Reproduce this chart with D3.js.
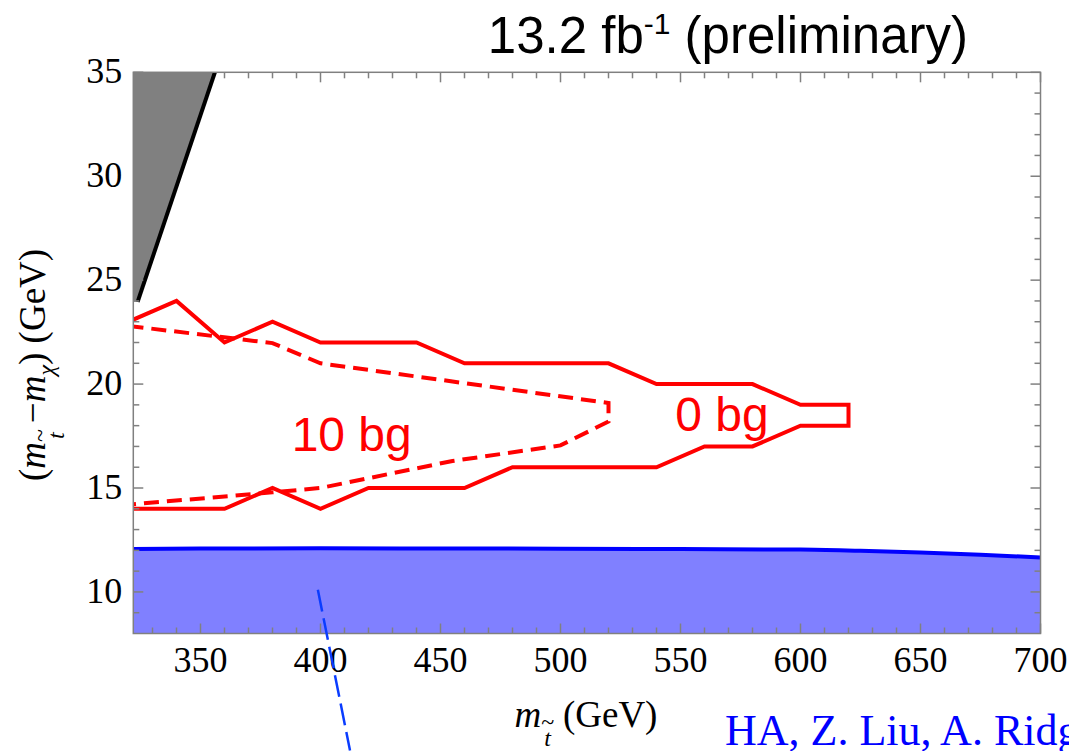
<!DOCTYPE html>
<html>
<head>
<meta charset="utf-8">
<script src="https://cdn.jsdelivr.net/npm/d3@7"></script>
<style>
  body { margin: 0; background: #fff; }
  svg { display: block; }
</style>
</head>
<body>
<div id="chart"></div>
<script>
// data
var xTicks = [350, 400, 450, 500, 550, 600, 650, 700];
var yTicks = [10, 15, 20, 25, 30, 35];

// 0 bg contour (solid)
var zeroBgX = [320, 340, 360, 380, 400, 440, 460, 520, 540, 580, 600, 620, 620, 600, 580, 560, 540, 480, 460, 420, 400, 380, 360, 320];
var zeroBgY = [23, 24, 22, 23, 22, 22, 21, 21, 20, 20, 19, 19, 18, 18, 17, 17, 16, 16, 15, 15, 14, 15, 14, 14];

// 10 bg contour (dashed)
var tenBgX = [320, 380, 400, 520, 520, 500, 455, 400, 380, 320];
var tenBgY = [22.8, 21.97, 21.0, 19.09, 18.2, 17.05, 16.3, 15.0, 14.79, 14.2];

// excluded band at small mass (grey)
var greyX = [320, 356, 323.8, 320];
var greyY = [35, 35, 23.96, 23.96];
var blackLineX = [323.8, 356];
var blackLineY = [23.96, 35];

// blue excluded region
var blueX = [320, 350, 400, 450, 500, 550, 600, 625, 650, 675, 700];
var blueY = [12.07, 12.09, 12.1, 12.09, 12.08, 12.06, 12.04, 11.98, 11.9, 11.79, 11.66];

// thin blue dashed line
var blueDashX = [398.9, 412.3];
var blueDashY = [10.1, 2.37];

//Define Margin
var margin = {left: 133.3, right: 28.5, top: 72.3, bottom: 117.5},
    width = 1069 - margin.left - margin.right,
    height = 751 - margin.top - margin.bottom;

var serif = "'Liberation Serif', 'Times New Roman', serif";
var sans = "'Liberation Sans', Arial, sans-serif";
var frameColor = "#808080";

var svg = d3.select("div#chart")
    .append("svg")
    .attr("width", 1069)
    .attr("height", 751);

var g = svg.append("g")
    .attr("transform", "translate(" + margin.left + "," + margin.top + ")");

//Define Scales
var xScale = d3.scaleLinear().domain([322, 700]).range([0, width]);
var yScale = d3.scaleLinear().domain([8, 35]).range([height, 0]);

g.append("defs").append("clipPath")
    .attr("id", "clip")
    .append("rect")
    .attr("width", width)
    .attr("height", height);

var plot = g.append("g").attr("clip-path", "url(#clip)");

function pts(xs, ys) { return xs.map(function(d, i) { return [d, ys[i]]; }); }

var line = d3.line()
    .x(function(d) { return xScale(d[0]); })
    .y(function(d) { return yScale(d[1]); });

// blue region
var blueArea = d3.area()
    .x(function(d) { return xScale(d[0]); })
    .y0(yScale(8))
    .y1(function(d) { return yScale(d[1]); })
    .curve(d3.curveMonotoneX);

plot.append("path")
    .datum(pts(blueX, blueY))
    .attr("d", blueArea)
    .attr("fill", "#8080ff");

plot.append("path")
    .datum(pts(blueX, blueY))
    .attr("d", line.curve(d3.curveMonotoneX))
    .attr("fill", "none")
    .attr("stroke", "#0000ff")
    .attr("stroke-width", 4);
line.curve(d3.curveLinear);

// grey region + black edge
plot.append("path")
    .datum(pts(greyX, greyY))
    .attr("d", function(d) { return line(d) + "Z"; })
    .attr("fill", "#808080");

plot.append("path")
    .datum(pts(blackLineX, blackLineY))
    .attr("d", line)
    .attr("fill", "none")
    .attr("stroke", "#000")
    .attr("stroke-width", 4);

// contours
plot.append("path")
    .datum(pts(zeroBgX, zeroBgY))
    .attr("d", line)
    .attr("fill", "none")
    .attr("stroke", "#ff0000")
    .attr("stroke-width", 4)
    .attr("stroke-linejoin", "miter");

plot.append("path")
    .datum(pts(tenBgX, tenBgY))
    .attr("d", line)
    .attr("fill", "none")
    .attr("stroke", "#ff0000")
    .attr("stroke-width", 4)
    .attr("stroke-dasharray", "15,8");

// contour labels
g.append("text")
    .attr("x", xScale(413))
    .attr("y", yScale(16.77))
    .attr("text-anchor", "middle")
    .style("font-family", sans)
    .style("font-size", "48px")
    .attr("fill", "#ff0000")
    .text("10 bg");

g.append("text")
    .attr("x", xScale(567.3))
    .attr("y", yScale(17.73))
    .attr("text-anchor", "middle")
    .style("font-family", sans)
    .style("font-size", "48px")
    .attr("fill", "#ff0000")
    .text("0 bg");

// frame
g.append("rect")
    .attr("width", width)
    .attr("height", height)
    .attr("fill", "none")
    .attr("stroke", frameColor)
    .attr("stroke-width", 1.5);

// ticks on all four sides
var xMinor = d3.range(330, 700, 10).filter(function(v) { return v % 50 !== 0; });
var yMinor = d3.range(9, 35, 1).filter(function(v) { return v % 5 !== 0; });

function addTicks(vals, len) {
    vals.forEach(function(v) {
        var px = xScale(v);
        g.append("line").attr("x1", px).attr("x2", px).attr("y1", height).attr("y2", height - len)
            .attr("stroke", frameColor).attr("stroke-width", 1.5);
        g.append("line").attr("x1", px).attr("x2", px).attr("y1", 0).attr("y2", len)
            .attr("stroke", frameColor).attr("stroke-width", 1.5);
    });
}
function addYTicks(vals, len) {
    vals.forEach(function(v) {
        var py = yScale(v);
        g.append("line").attr("x1", 0).attr("x2", len).attr("y1", py).attr("y2", py)
            .attr("stroke", frameColor).attr("stroke-width", 1.5);
        g.append("line").attr("x1", width).attr("x2", width - len).attr("y1", py).attr("y2", py)
            .attr("stroke", frameColor).attr("stroke-width", 1.5);
    });
}
addTicks(xTicks, 10);
addTicks(xMinor, 6);
addYTicks(yTicks, 10);
addYTicks(yMinor, 6);

// tick labels
g.selectAll(".xlab")
    .data(xTicks)
    .enter().append("text")
    .attr("class", "xlab")
    .attr("x", function(d) { return xScale(d); })
    .attr("y", height + 38.5)
    .attr("text-anchor", "middle")
    .style("font-family", serif)
    .style("font-size", "36px")
    .text(function(d) { return d; });

g.selectAll(".ylab")
    .data(yTicks)
    .enter().append("text")
    .attr("class", "ylab")
    .attr("x", -11)
    .attr("y", function(d) { return yScale(d) + 11; })
    .attr("text-anchor", "end")
    .style("font-family", serif)
    .style("font-size", "36px")
    .text(function(d) { return d; });

// x axis label
var xl = svg.append("text")
    .attr("x", 586)
    .attr("y", 727)
    .attr("text-anchor", "middle")
    .style("font-family", serif)
    .style("font-size", "37px");
xl.append("tspan").style("font-style", "italic").text("m");
xl.append("tspan").style("font-size", "24px").attr("dy", 3).text("~");
xl.append("tspan").style("font-size", "24px").style("font-style", "italic").attr("dx", -10).attr("dy", 16).text("t");
xl.append("tspan").attr("dx", 12).attr("dy", -19).text("(GeV)");

// y axis label
var yl = svg.append("text")
    .attr("transform", "translate(45,365) rotate(-90)")
    .attr("text-anchor", "middle")
    .style("font-family", serif)
    .style("font-size", "37px");
yl.append("tspan").text("(");
yl.append("tspan").style("font-style", "italic").text("m");
yl.append("tspan").style("font-size", "24px").attr("dy", 3).text("~");
yl.append("tspan").style("font-size", "24px").style("font-style", "italic").attr("dx", -10).attr("dy", 16).text("t");
yl.append("tspan").attr("dy", -19).text(" \u2212");
yl.append("tspan").style("font-style", "italic").text("m");
yl.append("tspan").style("font-size", "24px").style("font-style", "italic").attr("dy", 9).text("\u03c7");
yl.append("tspan").attr("dy", -9).text(") (GeV)");

// title
var title = svg.append("text")
    .attr("x", 968)
    .attr("y", 53)
    .attr("text-anchor", "end")
    .style("font-family", sans)
    .style("font-size", "51px");
title.append("tspan").text("13.2 fb");
title.append("tspan").style("font-size", "30px").attr("dy", -19).text("-1");
title.append("tspan").attr("dy", 19).text(" (preliminary)");

// author credit (cut off at the right edge, as in the original)
svg.append("text")
    .attr("x", 725)
    .attr("y", 745)
    .style("font-family", serif)
    .style("font-size", "44px")
    .attr("fill", "#0000ff")
    .text("HA, Z. Liu, A. Ridgway");

// thin blue dashed line (runs past the frame)
g.append("path")
    .datum(pts(blueDashX, blueDashY))
    .attr("d", line)
    .attr("fill", "none")
    .attr("stroke", "#0a3cff")
    .attr("stroke-width", 2.5)
    .attr("stroke-dasharray", "22,7");
</script>
</body>
</html>
